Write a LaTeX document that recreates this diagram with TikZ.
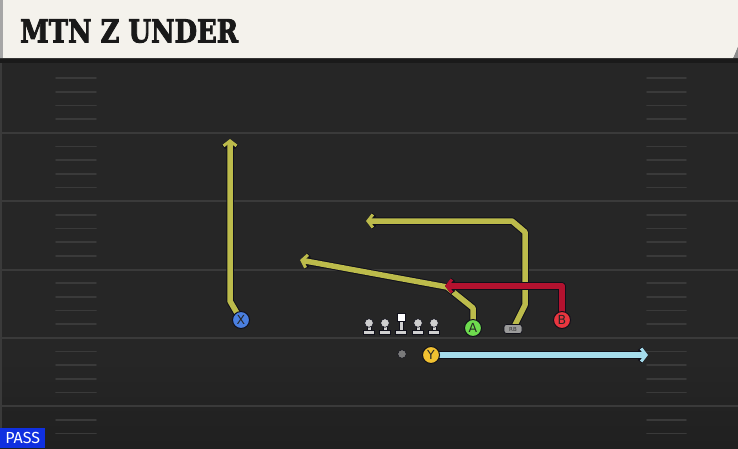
\documentclass[tikz,border=0pt]{standalone}
\usepackage{fontspec}
\setmainfont{DejaVu Sans}
\newfontfamily\titlefont{DejaVu Serif Bold}[FakeBold=3]
\newfontfamily\passfont{Fira Sans}
\usetikzlibrary{arrows.meta}
\definecolor{fieldbg}{HTML}{262626}
\definecolor{fielddark}{HTML}{202020}
\definecolor{yardc}{HTML}{3A3A3A}
\definecolor{headerbg}{HTML}{F4F2EC}
\definecolor{headerband}{HTML}{1A1A1A}
\definecolor{yroute}{HTML}{BCBB4B}
\definecolor{rroute}{HTML}{B3122F}
\definecolor{broute}{HTML}{A5DCEC}
\definecolor{xblue}{HTML}{4A7FE0}
\definecolor{agreen}{HTML}{6EDB4E}
\definecolor{bred}{HTML}{E8363F}
\definecolor{yyellow}{HTML}{F1C131}
\definecolor{olgray}{HTML}{CFCFCF}
\definecolor{rbgray}{HTML}{9A9A9A}
\definecolor{passblue}{HTML}{1030E0}
\definecolor{outl}{HTML}{10101A}
\pgfdeclarelayer{fieldlayer}
\pgfdeclarelayer{routes}
\pgfsetlayers{fieldlayer,routes,main}
\tikzset{
  yardline/.style={draw=yardc, line width=2pt},
  hashmark/.style={draw=yardc, line width=1.6pt, line cap=round},
  route/.style={draw=#1, line width=5.5pt, line join=round,
    -{Straight Barb[length=5pt,width=13pt,line width=3pt]},
    preaction={draw=outl, line width=7.5pt, line join=round,
    -{Straight Barb[length=5pt,width=13pt,line width=5pt]}}},
  player/.style={circle, fill=#1, draw=outl, line width=1pt, minimum size=17pt,
    inner sep=0pt, text=black!85, font=\fontsize{12.5}{12.5}\selectfont},
  olpart/.style={fill=olgray, draw=outl, line width=0.6pt},
  lineman/.pic={
    \path[olpart] (-5.5,7) rectangle (5.5,11.5);
    \path[olpart] (-2,3) rectangle (2,7);
    \path[olpart] (0,0) circle (4.3);
  },
  centerman/.pic={
    \path[olpart] (-5.5,7) rectangle (5.5,11.5);
    \path[olpart] (-2,-2) rectangle (2,7);
    \path[fill=white, draw=outl, line width=0.6pt] (-4.2,-9.5) rectangle (4.2,-2);
  }
}
\begin{document}
\begin{tikzpicture}[x=1pt,y=-1pt]
\useasboundingbox (0,0) rectangle (738,448);
\begin{pgfonlayer}{fieldlayer}
\fill[fieldbg] (0,60) rectangle (738,360);
\shade[top color=fieldbg, bottom color=fielddark] (0,359) rectangle (738,448);
\fill[yardc] (0,60) rectangle (2,448);
\foreach \y in {132.9,201.2,269.5,337.8,406.1}
  \draw[yardline] (0,\y) -- (738,\y);
\foreach \k in {1,2,3,4,6,7,8,9,11,12,13,14,16,17,18,19,21,22,23,24,26,27}{
  \draw[hashmark] (56,{64.6+13.66*\k}) -- (96,{64.6+13.66*\k});
  \draw[hashmark] (647,{64.6+13.66*\k}) -- (686,{64.6+13.66*\k});
}
\fill[headerband] (0,57) rectangle (738,63);
\fill[black!45] (733,58) -- (738,46) -- (738,58) -- cycle;
\fill[headerbg] (0,0) -- (738,0) -- (738,46) -- (733,58) -- (0,58) -- cycle;
\fill[black!35] (0,0) rectangle (3,58);
\end{pgfonlayer}
\node[anchor=south west, inner sep=0pt, text=black!90] (title) at (20,43)
  {\resizebox{218pt}{23pt}{\titlefont MTN Z UNDER}};
% line
\pic (lt) at (369,323) {lineman};
\pic (lg) at (385,323) {lineman};
\pic (c) at (401,323) {centerman};
\pic (rg) at (418,323) {lineman};
\pic (rt) at (434,323) {lineman};
\node[circle, fill=black!52, draw=outl, line width=0.5pt, minimum size=8.5pt, inner sep=0pt] (QB) at (402,354) {};
% players
\node[player=xblue] (X) at (241,320) {X};
\node[player=agreen] (A) at (473,328) {A};
\node[player=bred] (B) at (562,320) {B};
\node[player=yyellow] (Y) at (431,355) {Y};
\node[fill=rbgray, draw=outl, line width=0.7pt, rounded corners=2.5pt, minimum width=18pt,
  minimum height=9pt, inner sep=0pt, text=black!80, font=\fontsize{5.5}{5.5}\selectfont] (RB) at (513,329) {RB};
% routes
\begin{pgfonlayer}{routes}
\coordinate (xtip) at (230,139);
\coordinate (atip) at (300,260);
\coordinate (rbtip) at (366,221);
\coordinate (btip) at (445,286);
\coordinate (ytip) at (648,355);
\draw[route=yroute] (X.center) -- (230,301) -- (xtip);
\draw[route=yroute] (A.center) -- (473,308) -- (447,287) -- (atip);
\draw[route=yroute] (RB.center) -- (525,305) -- (525,232) -- (512,221) -- (rbtip);
\draw[route=rroute] (B.center) -- (562,286) -- (btip);
\draw[route=broute] (Y.center) -- (ytip);
\end{pgfonlayer}
% pass label
\node[anchor=south west, fill=passblue, text=white, minimum width=45pt, minimum height=20pt,
  inner sep=0pt, font=\passfont\fontsize{16}{16}\selectfont] (pass) at (0,448) {PASS};
\end{tikzpicture}
\end{document}
